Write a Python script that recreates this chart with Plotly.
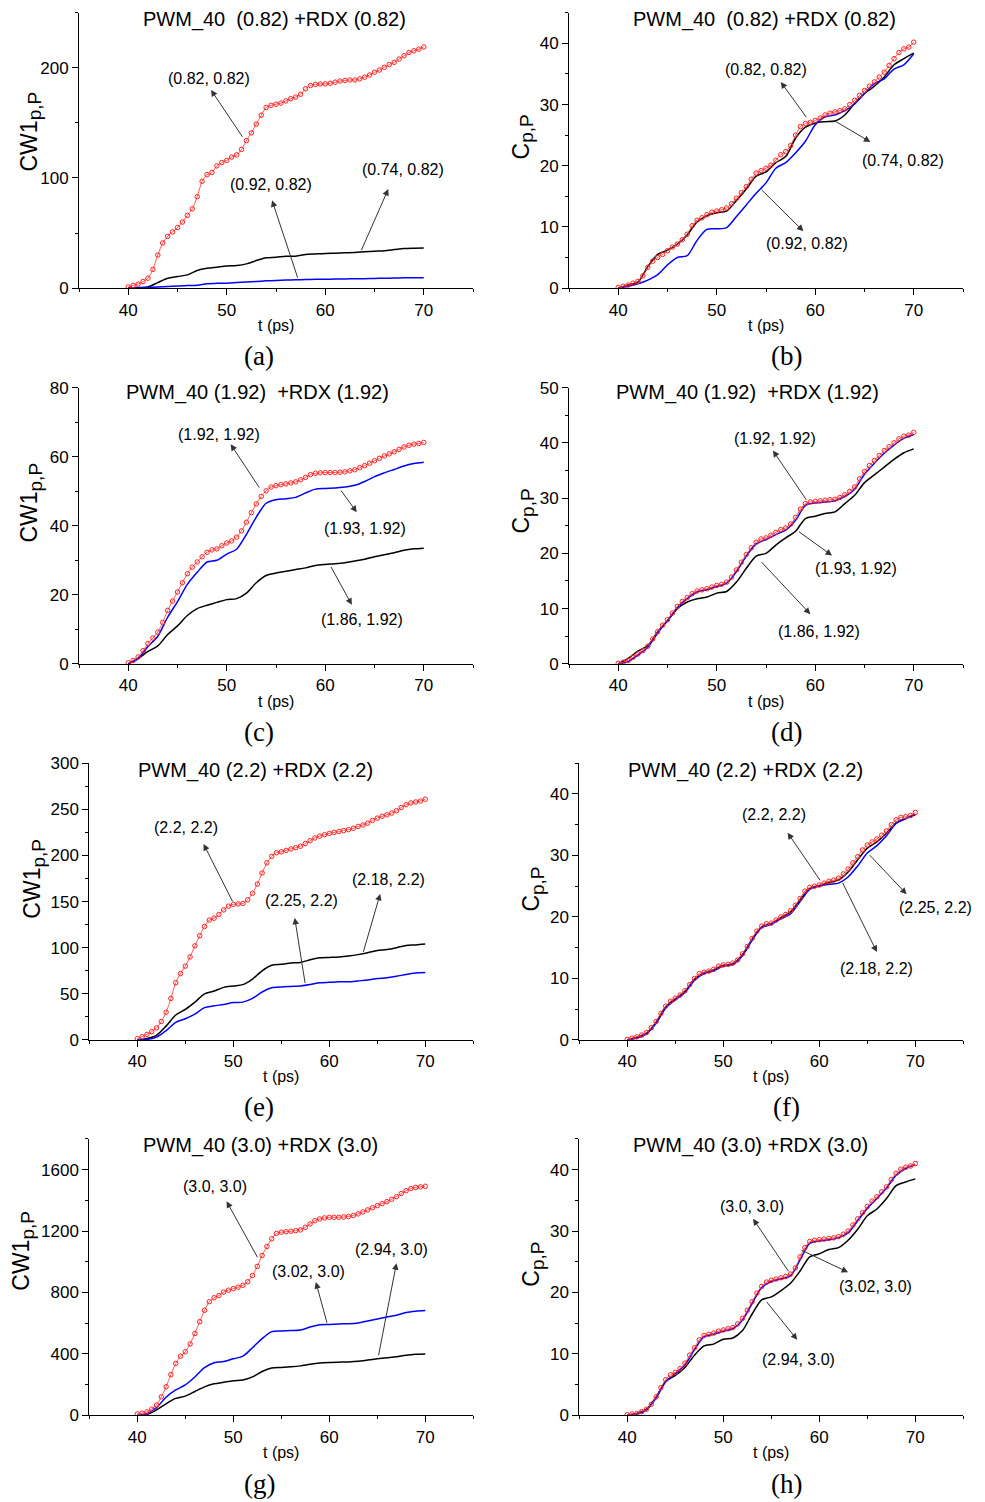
import plotly.graph_objects as go

W, H = 985, 1502

# time grids (ps)
t_line = list(range(40, 71))                    # 1 ps sampling for lines
t_mark = [40 + 0.5 * i for i in range(61)]      # 0.5 ps sampling for red open circles

# ---------------- data ----------------
# (a) CW1 p,P  PWM_40 (0.82) + RDX (0.82)
a_red = [1, 2.5, 3.6, 6, 9, 17, 30, 41, 47, 51,
         55, 60, 66, 72, 83, 97, 103, 105, 111, 114,
         116, 119, 121, 126, 134, 141, 149, 157, 164, 166,
         167, 168, 170, 172, 173.5, 176, 181, 184, 185, 185.3,
         185.5, 186, 187, 188, 188.5, 189, 189, 190, 191.5, 193.5,
         196, 198, 200.5, 203, 205, 208, 211, 214, 215.5, 217,
         219]
a_black = [0, 0.5, 1, 5, 9, 10.5, 12, 16, 18, 19, 20, 20.5, 22, 25, 27.5, 28, 29, 29, 30.5, 31,
           31.5, 31.7, 32, 32.3, 33, 33.5, 34, 35, 36, 36.3, 36.5]
a_blue = [0, 0.2, 0.5, 1, 1.5, 2, 2.3, 2.6, 4, 4.3, 4.5, 5, 5.5, 6, 6.6, 7, 7.3, 7.5, 7.8, 8,
          8, 8.2, 8.3, 8.5, 8.6, 8.8, 9, 9.1, 9.3, 9.4, 9.5]

# (b) C p,P  PWM_40 (0.82) + RDX (0.82)
b_red = [0.1, 0.3, 0.5, 0.8, 1.1, 2.0, 3.4, 4.4, 5.0, 5.5,
         6.1, 6.7, 7.2, 7.9, 8.8, 10.2, 11.1, 11.5, 12.0, 12.4,
         12.6, 12.8, 13.1, 13.8, 14.7, 15.6, 16.6, 17.8, 18.8, 19.2,
         19.6, 20.1, 20.9, 21.8, 22.3, 23.3, 25.0, 26.4, 26.9, 27.1,
         27.4, 27.8, 28.3, 28.6, 28.8, 29.0, 29.3, 30.0, 30.7, 31.5,
         32.3, 33.0, 33.7, 34.5, 35.3, 36.4, 37.5, 38.5, 39.1, 39.4,
         40.2]
b_black = [0, 0.5, 1.0, 3.5, 5.5, 6.2, 7.2, 8.7, 10.8, 11.8, 12.3, 12.6, 14.3, 16.2, 18.3, 19.0,
           20.5, 21.5, 24.5, 26.3, 27.0, 27.2, 27.3, 28.3, 30.2, 31.8, 33.0, 34.5, 36.5, 37.5, 38.4]
b_blue = [0, 0.3, 0.7, 1.3, 2.2, 3.8, 5.0, 5.3, 7.8, 9.6, 9.7, 9.9, 11.7, 13.6, 15.5, 17.2,
          19.6, 20.5, 22.1, 24.0, 26.7, 28.0, 28.3, 29.0, 30.1, 31.8, 33.4, 34.2, 35.8, 36.5, 38.3]

# (c) CW1 p,P  PWM_40 (1.92) + RDX (1.92)
c_red = [0.3, 1.0, 2.0, 3.8, 5.9, 7.5, 9.2, 12.0, 15.5, 18.2,
         20.8, 23.5, 26.1, 28.0, 29.5, 31.0, 32.3, 33.0, 33.3, 34.2,
         35.0, 35.6, 36.7, 38.5, 41.0, 43.8, 46.3, 48.5, 50.1, 51.2,
         51.6, 51.9, 52.1, 52.4, 52.7, 53.3, 54.0, 54.8, 55.2, 55.3,
         55.4, 55.4, 55.4, 55.5, 55.6, 55.9, 56.2, 56.8, 57.4, 58.1,
         58.8, 59.5, 60.2, 60.8, 61.4, 62.1, 62.8, 63.3, 63.6, 63.8,
         64.1]
c_black = [0, 1.5, 3.6, 5.2, 8.5, 11.0, 14.0, 16.0, 17.0, 17.8, 18.6, 18.9, 20.5, 23.5, 25.6, 26.3,
           26.8, 27.3, 27.8, 28.5, 28.8, 29.0, 29.3, 29.8, 30.3, 31.0, 31.6, 32.2, 32.9, 33.3, 33.5]
c_blue = [0, 1.5, 5.0, 8.0, 13.5, 18.0, 23.0, 26.5, 29.5, 30.0, 31.8, 33.2, 37.5, 42.5, 46.5, 47.5,
          47.8, 48.2, 49.5, 50.6, 50.8, 50.9, 51.2, 51.7, 52.8, 54.2, 55.3, 56.3, 57.3, 58.0, 58.4]

# (d) C p,P  PWM_40 (1.92) + RDX (1.92)
d_red = [0.1, 0.3, 0.6, 1.2, 1.8, 2.4, 3.2, 4.5, 5.8, 7.0,
         8.0, 9.2, 10.4, 11.3, 12.0, 12.7, 13.2, 13.4, 13.6, 13.9,
         14.2, 14.4, 14.8, 15.7, 17.0, 18.4, 19.8, 21.0, 22.0, 22.6,
         22.8, 23.3, 23.8, 24.3, 24.6, 25.3, 26.5, 28.0, 29.0, 29.3,
         29.4, 29.5, 29.6, 29.7, 29.8, 30.1, 30.6, 31.2, 32.0, 33.5,
         34.8, 35.9, 36.8, 37.7, 38.6, 39.3, 40.0, 40.7, 41.2, 41.4,
         41.9]
d_black = [0, 1.0, 2.3, 3.3, 5.8, 7.8, 10.0, 11.2, 11.8, 12.1, 12.8, 13.1, 14.8, 17.3, 19.5, 20.0,
           21.5, 22.8, 24.0, 26.3, 26.7, 27.2, 27.5, 29.0, 30.5, 32.8, 34.2, 35.6, 37.0, 38.2, 38.9]
d_blue = [0, 0.4, 1.6, 3.0, 5.6, 7.8, 10.2, 11.8, 13.0, 13.4, 14.0, 14.6, 16.7, 19.5, 21.7, 22.5,
          23.4, 24.2, 26.0, 28.7, 29.1, 29.3, 29.5, 30.3, 31.6, 34.3, 36.3, 38.1, 39.6, 40.8, 41.5]

# (e) CW1 p,P  PWM_40 (2.2) + RDX (2.2)
e_red = [1.4, 3.5, 6, 9, 13, 20, 30, 45, 62, 72,
         80, 90, 102, 113, 123, 130, 132, 136, 141, 145,
         147, 147.5, 148, 152, 159, 169, 181, 192, 199, 203,
         204, 205.5, 207, 208.5, 210, 213, 216, 219, 221, 222.5,
         224, 225, 226, 227, 228, 229.5, 231.5, 233, 235, 238,
         240.5, 242.5, 244, 246, 248.5, 252, 255, 257, 258, 259,
         261]
e_black = [0, 1.5, 5, 15, 27, 33, 41, 50, 53, 57, 58.5, 60, 66, 75, 81, 82, 83.5, 84, 87, 89,
           89.5, 90, 91, 92.5, 94.5, 97, 98, 100, 102.5, 103, 104]
e_blue = [0, 0.5, 3, 10, 19, 23, 28, 35, 37, 38.5, 40.5, 41, 45, 52, 56.5, 57.5, 58, 58.5, 60, 62,
          62.5, 63, 63, 64, 65, 66.5, 67.5, 69, 71, 72.5, 73]

# (f) C p,P  PWM_40 (2.2) + RDX (2.2)
f_red = [0.1, 0.3, 0.5, 0.8, 1.2, 2.0, 3.0, 4.3, 5.5, 6.3,
         6.8, 7.3, 8.0, 9.0, 10.0, 10.8, 11.0, 11.2, 11.5, 12.0,
         12.2, 12.3, 12.5, 13.0, 14.0, 15.2, 16.5, 17.7, 18.5, 18.9,
         19.0, 19.5, 20.0, 20.4, 21.0, 21.9, 23.0, 24.2, 24.8, 25.0,
         25.2, 25.5, 25.8, 26.0, 26.3, 27.0, 27.8, 28.8, 29.8, 30.9,
         31.7, 32.2, 32.7, 33.3, 34.0, 35.0, 35.8, 36.2, 36.3, 36.5,
         37.0]
f_black = [0.05, 0.45, 1.1, 2.9, 5.4, 6.7, 7.9, 9.9, 10.9, 11.4, 12.1, 12.4, 13.9, 16.4, 18.4, 18.9,
           19.9, 20.8, 22.8, 24.6, 25.1, 25.6, 26.0, 27.3, 29.3, 31.2, 32.2, 33.6, 35.3, 36.0, 36.7]
f_blue = [0, 0.3, 1.0, 2.7, 5.2, 6.5, 7.7, 9.7, 10.8, 11.2, 12.0, 12.3, 13.7, 16.2, 18.3, 18.8,
          19.7, 20.5, 22.5, 24.5, 25.0, 25.3, 25.5, 26.5, 28.3, 30.4, 31.6, 33.2, 35.2, 36.0, 36.6]

# (g) CW1 p,P  PWM_40 (3.0) + RDX (3.0)
g_red = [9, 14, 22, 40, 67, 120, 186, 265, 338, 385,
         414, 465, 533, 610, 684, 740, 766, 780, 803, 815,
         825, 835, 847, 870, 911, 970, 1041, 1100, 1150, 1185,
         1193, 1196, 1199, 1203, 1208, 1225, 1247, 1268, 1279, 1286,
         1290, 1290, 1290, 1292, 1295, 1302, 1312, 1325, 1338, 1352,
         1366, 1379, 1392, 1407, 1425, 1445, 1463, 1477, 1485, 1488,
         1492]
g_black = [0, 5, 35, 75, 110, 125, 155, 185, 205, 215, 225, 230, 250, 285, 308, 312, 316, 322, 332, 340,
           344, 346, 348, 352, 360, 368, 375, 382, 392, 398, 400]
g_blue = [0, 10, 50, 118, 165, 198, 250, 310, 342, 350, 368, 385, 440, 500, 545, 550, 552, 556, 575, 590,
          592, 595, 597, 602, 615, 628, 640, 652, 670, 678, 682]

# (h) C p,P  PWM_40 (3.0) + RDX (3.0)
h_red = [0.1, 0.2, 0.3, 0.6, 1.0, 1.8, 3.0, 4.5, 5.8, 6.6,
         7.0, 7.6, 8.5, 9.8, 11.0, 12.3, 13.0, 13.2, 13.4, 13.7,
         13.9, 14.1, 14.3, 14.9, 15.8, 17.1, 18.5, 19.9, 21.0, 21.7,
         22.0, 22.2, 22.4, 22.6, 23.0, 24.0, 25.8, 27.3, 28.3, 28.5,
         28.6, 28.7, 28.8, 28.9, 29.1, 29.5, 30.0, 31.0, 32.0, 33.0,
         34.0, 34.9, 35.6, 36.4, 37.2, 38.4, 39.4, 40.1, 40.4, 40.6,
         41.0]
h_black = [0, 0.3, 1.0, 3.0, 5.5, 6.5, 7.8, 9.8, 11.3, 11.6, 12.4, 12.6, 13.8, 16.5, 18.8, 19.3,
           20.3, 21.5, 23.5, 25.8, 26.3, 27.0, 27.3, 28.5, 30.3, 32.5, 33.6, 35.3, 37.4, 38.0, 38.5]
h_blue = [0, 0.2, 0.9, 2.8, 5.5, 6.8, 8.2, 10.7, 12.8, 13.2, 13.7, 14.1, 15.5, 18.2, 20.8, 21.8,
          22.2, 22.7, 25.3, 28.0, 28.4, 28.6, 28.9, 29.7, 31.7, 33.7, 35.3, 37.0, 39.1, 40.2, 40.8]

# tick labels / texts
x_ticks = [40, 50, 60, 70]
x_minor = [35, 45, 55, 65, 75]
titles = ["PWM_40\u00a0\u00a0(0.82) +RDX (0.82)", "PWM_40\u00a0\u00a0(0.82) +RDX (0.82)",
          "PWM_40 (1.92)\u00a0\u00a0+RDX (1.92)", "PWM_40 (1.92)\u00a0\u00a0+RDX (1.92)",
          "PWM_40 (2.2) +RDX (2.2)", "PWM_40 (2.2) +RDX (2.2)",
          "PWM_40 (3.0) +RDX (3.0)", "PWM_40 (3.0) +RDX (3.0)"]
SUBSPAN = "<sub><span style='font-size:19px'>p,P</span></sub>"
ytitles = ["CW1" + SUBSPAN, "C" + SUBSPAN] * 4
labels = ["(a)", "(b)", "(c)", "(d)", "(e)", "(f)", "(g)", "(h)"]
pair_labels = [
    ["(0.82, 0.82)", "(0.92, 0.82)", "(0.74, 0.82)"],
    ["(0.82, 0.82)", "(0.74, 0.82)", "(0.92, 0.82)"],
    ["(1.92, 1.92)", "(1.93, 1.92)", "(1.86, 1.92)"],
    ["(1.92, 1.92)", "(1.93, 1.92)", "(1.86, 1.92)"],
    ["(2.2, 2.2)", "(2.25, 2.2)", "(2.18, 2.2)"],
    ["(2.2, 2.2)", "(2.25, 2.2)", "(2.18, 2.2)"],
    ["(3.0, 3.0)", "(3.02, 3.0)", "(2.94, 3.0)"],
    ["(3.0, 3.0)", "(3.02, 3.0)", "(2.94, 3.0)"],
]
series = [
    (a_red, a_black, a_blue), (b_red, b_black, b_blue),
    (c_red, c_black, c_blue), (d_red, d_black, d_blue),
    (e_red, e_black, e_blue), (f_red, f_black, f_blue),
    (g_red, g_black, g_blue), (h_red, h_black, h_blue),
]
y_major = [[0, 100, 200], [0, 10, 20, 30, 40], [0, 20, 40, 60, 80], [0, 10, 20, 30, 40, 50],
           [0, 50, 100, 150, 200, 250, 300], [0, 10, 20, 30, 40], [0, 400, 800, 1200, 1600],
           [0, 10, 20, 30, 40]]
y_minor = [[50, 150, 250], [5, 15, 25, 35, 45], [10, 30, 50, 70], [5, 15, 25, 35, 45],
           [25, 75, 125, 175, 225, 275], [5, 15, 25, 35, 45], [200, 600, 1000, 1400, 1800],
           [5, 15, 25, 35, 45]]
y_range = [[0, 250], [0, 45], [0, 80], [0, 50], [0, 300], [0, 45], [0, 1800], [0, 45]]

# ---------------- layout geometry (pixels) ----------------
# plot box: left, right, top, bottom
boxes = [
    (79, 473, 11, 287), (569, 963, 11, 287),
    (79, 473, 386.7, 663.7), (569, 963, 386.7, 663.7),
    (89.3, 473.3, 763.3, 1040.7), (579.3, 963.3, 763.3, 1040.7),
    (89.3, 473.3, 1140, 1417), (579.3, 963.3, 1140, 1417),
]
title_pos = [(274, 18), (764, 18), (257, 392), (747, 392),
             (255, 770.5), (745, 770.5), (260, 1146.5), (750, 1146.5)]
xt_pos = [(276, 324), (766, 324), (276, 701), (766, 701),
          (281, 1077.5), (771, 1077.5), (281, 1454), (771, 1454)]
yt_pos = [(31, 130), (523, 136), (31, 502), (523, 511),
          (34, 879), (533, 890), (23, 1252), (533, 1266)]
lab_pos = [(259, 355), (786, 355), (259, 732), (786, 732),
           (259, 1108), (786, 1108), (259, 1486), (786, 1486)]
# annotation geometry in data units: text (x, y), arrow head (x, y), arrow tail (x, y)
notes_geo = [
    [((48.2, 190), (48.4, 180), (51.7, 136)),
     ((54.5, 94.4), (54.6, 79.7), (57.25, 8.1)),
     ((67.9, 108), (66.4, 90), (63.6, 33))],
    [((55.05, 35.8), (56.5, 33.7), (59.2, 27.7)),
     ((68.9, 20.8), (65.6, 23.9), (61.9, 27.4)),
     ((59.2, 7.25), (58.8, 9.3), (54.4, 16.3))],
    [((49.2, 66.5), (50.4, 63.6), (53.4, 50.6)),
     ((64.0, 39.1), (63.2, 43.9), (61.5, 50.6)),
     ((63.7, 12.8), (62.7, 17.1), (60.5, 28.5))],
    [((55.9, 40.8), (55.7, 38.6), (59.2, 29.4)),
     ((64.15, 17.3), (61.7, 19.6), (58.2, 24.1)),
     ((60.4, 5.9), (59.5, 9.0), (54.4, 18.7))],
    [((45.05, 230.4), (46.9, 212.4), (50.0, 148.6)),
     ((57.1, 151.1), (56.4, 132.3), (57.5, 60.2)),
     ((66.2, 173.8), (65.3, 158.3), (63.5, 93.8))],
    [((55.3, 36.6), (56.7, 33.7), (60.2, 25.7)),
     ((72.1, 21.5), (69.1, 23.7), (65.1, 30.3)),
     ((66.0, 11.6), (66.0, 14.3), (62.35, 25.8))],
    [((48.1, 1489), (49.3, 1394), (52.6, 1020)),
     ((57.8, 937), (58.6, 868), (59.8, 593)),
     ((66.5, 1078), (67.0, 991), (65.1, 381))],
    [((53.0, 34.0), (53.1, 32.0), (56.9, 23.2)),
     ((65.85, 20.9), (63.0, 23.3), (58.0, 27.0)),
     ((57.8, 9.1), (57.7, 12.3), (54.4, 18.7))],
]

SANS = "Liberation Sans, Arial, sans-serif"
SERIF = "Liberation Serif, Times New Roman, serif"

fig = go.Figure()
layout = dict(width=W, height=H, margin=dict(l=0, r=0, t=0, b=0),
              paper_bgcolor="white", plot_bgcolor="white", showlegend=False)
annotations = []


def px_x(v):
    return v / W


def px_y(v):
    # compensate the page's vertical offset/scale observed in the rendering
    v2 = (v - 7.2) / 0.9898
    return 1 - v2 / H


for i in range(8):
    n = i + 1
    xa = "x" if n == 1 else f"x{n}"
    ya = "y" if n == 1 else f"y{n}"
    red, black, blue = series[i]
    fig.add_trace(go.Scatter(x=t_line, y=black, mode="lines", line=dict(color="black", width=1.5, shape="spline", smoothing=0.8),
                             xaxis=xa, yaxis=ya))
    fig.add_trace(go.Scatter(x=t_line, y=blue, mode="lines", line=dict(color="#0000ff", width=1.5, shape="spline", smoothing=0.8),
                             xaxis=xa, yaxis=ya))
    fig.add_trace(go.Scatter(x=t_mark, y=red, mode="lines+markers",
                             line=dict(color="#ff3030", width=0.8, shape="spline", smoothing=0.8),
                             marker=dict(symbol="circle-open", size=4.5, color="#ff2020", line=dict(width=1, color="#ff2020")),
                             xaxis=xa, yaxis=ya))
    l, r, t, b = boxes[i]
    common = dict(showline=True, linecolor="black", linewidth=1, ticks="outside", ticklen=6, tickwidth=1,
                  tickcolor="black", showgrid=False, zeroline=False, mirror=False,
                  tickfont=dict(family=SANS, size=17, color="black"))
    layout["xaxis" if n == 1 else f"xaxis{n}"] = dict(
        domain=[px_x(l), px_x(r)], range=[35, 75], anchor=ya, tickmode="array", tickvals=x_ticks,
        minor=dict(tickmode="array", tickvals=x_minor, ticks="outside", ticklen=3, tickcolor="black"),
        **common)
    layout["yaxis" if n == 1 else f"yaxis{n}"] = dict(
        domain=[px_y(b), px_y(t)], range=y_range[i], anchor=xa, tickmode="array", tickvals=y_major[i],
        minor=dict(tickmode="array", tickvals=y_minor[i], ticks="outside", ticklen=3, tickcolor="black"),
        **common)
    # panel title
    annotations.append(dict(text=titles[i], x=px_x(title_pos[i][0]), y=px_y(title_pos[i][1]), xref="paper", yref="paper",
                            showarrow=False, xanchor="center", yanchor="middle",
                            font=dict(family=SANS, size=20, color="black")))
    # x title
    annotations.append(dict(text="t (ps)", x=px_x(xt_pos[i][0]), y=px_y(xt_pos[i][1]), xref="paper", yref="paper",
                            showarrow=False, xanchor="center", yanchor="middle",
                            font=dict(family=SANS, size=16, color="black")))
    # y title
    annotations.append(dict(text=ytitles[i], x=px_x(yt_pos[i][0]), y=px_y(yt_pos[i][1]), xref="paper", yref="paper",
                            showarrow=False, xanchor="center", yanchor="middle", textangle=-90,
                            font=dict(family=SANS, size=23, color="black")))
    # panel label
    annotations.append(dict(text=labels[i], x=px_x(lab_pos[i][0]), y=px_y(lab_pos[i][1]), xref="paper", yref="paper",
                            showarrow=False, xanchor="center", yanchor="middle",
                            font=dict(family=SERIF, size=27, color="black")))
    # pair labels with arrows
    for txt, (tpos, head, tail) in zip(pair_labels[i], notes_geo[i]):
        annotations.append(dict(text=txt, x=tpos[0], y=tpos[1], xref=xa, yref=ya, showarrow=False,
                                xanchor="center", yanchor="middle",
                                font=dict(family=SANS, size=16, color="black")))
        annotations.append(dict(text="", x=head[0], y=head[1], xref=xa, yref=ya,
                                ax=tail[0], ay=tail[1], axref=xa, ayref=ya,
                                showarrow=True, arrowhead=2, arrowsize=1.3, arrowwidth=1, arrowcolor="#333333"))

layout["annotations"] = annotations
fig.update_layout(**layout)
fig.write_html("out.html")
